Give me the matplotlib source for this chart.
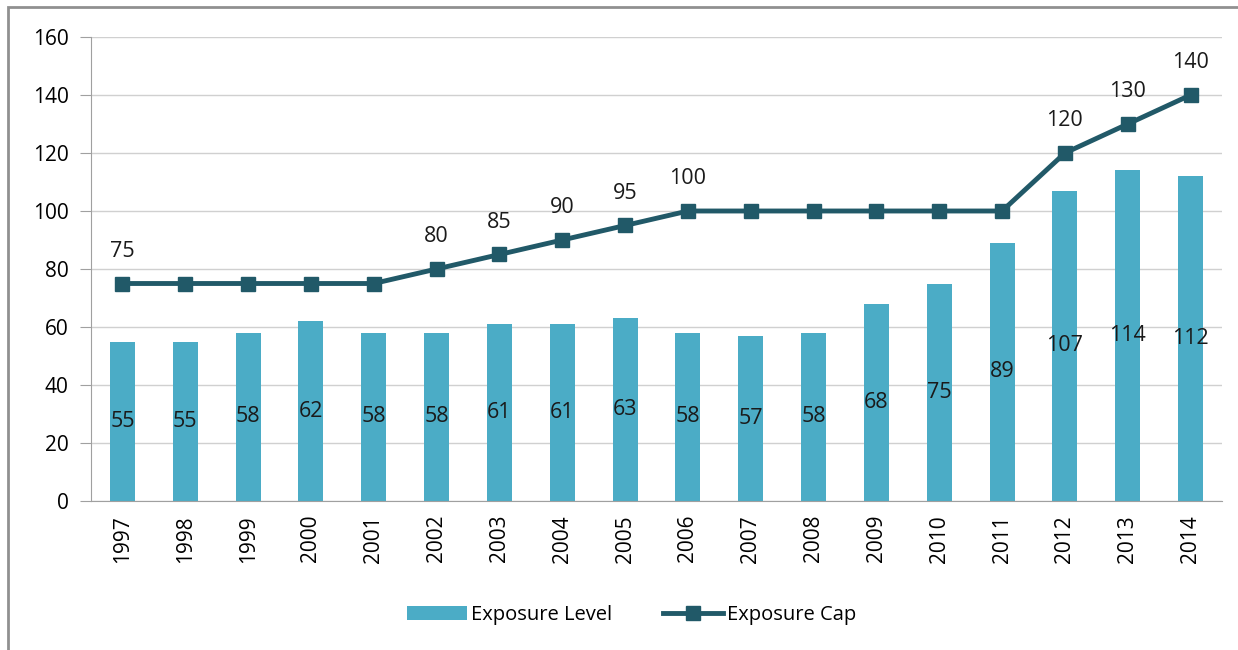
import numpy as np
import matplotlib.pyplot as plt
from matplotlib.patches import Rectangle

plt.rcParams['font.family'] = ['Open Sans', 'DejaVu Sans']

years = [str(y) for y in range(1997, 2015)]
exposure_level = [55, 55, 58, 62, 58, 58, 61, 61, 63, 58, 57, 58, 68, 75, 89, 107, 114, 112]
exposure_cap = [75, 75, 75, 75, 75, 80, 85, 90, 95, 100, 100, 100, 100, 100, 100, 120, 130, 140]
# only these cap points carry a label in the original
cap_labelled = [1, 0, 0, 0, 0, 1, 1, 1, 1, 1, 0, 0, 0, 0, 0, 1, 1, 1]

bar_col = '#4BACC6'
line_col = '#215968'

fig = plt.figure(figsize=(12.38, 6.5), dpi=100)
ax = fig.add_axes([91 / 1238, 1 - 501 / 650, (1222 - 91) / 1238, (501 - 37) / 650])

x = np.arange(len(years))
bars = ax.bar(x, exposure_level, width=0.4, color=bar_col, label='Exposure Level', zorder=2)
line, = ax.plot(x, exposure_cap, color=line_col, lw=3.5, marker='s', ms=10,
                label='Exposure Cap', zorder=3)

for i, v in enumerate(exposure_level):
    ax.text(x[i], v / 2, str(v), ha='center', va='center', fontsize=15.5, color='#1a1a1a', zorder=4)
for i, v in enumerate(exposure_cap):
    if cap_labelled[i]:
        ax.text(x[i], v + 7.5, str(v), ha='center', va='bottom', fontsize=15.5, color='#1a1a1a', zorder=4)

ax.set_xlim(-0.5, len(years) - 0.5)
ax.set_ylim(0, 160)
ax.set_yticks(range(0, 161, 20))
ax.set_xticks(x)
ax.set_xticklabels(years, rotation=90)
ax.yaxis.grid(True, color='#d0d0d0', lw=1, zorder=0)
ax.set_axisbelow(True)
for s in ['top', 'right']:
    ax.spines[s].set_visible(False)
for s in ['left', 'bottom']:
    ax.spines[s].set_color('#a0a0a0')
ax.tick_params(axis='y', length=8, color='#a0a0a0', labelsize=15, pad=8)
ax.tick_params(axis='x', length=0, labelsize=15, pad=10)

ax.legend([bars, line], ['Exposure Level', 'Exposure Cap'], loc='upper center',
          bbox_to_anchor=(0.478, -0.185), ncol=2, frameon=False,
          fontsize=14.5, handlelength=3, columnspacing=2.5, handletextpad=0.2)

# outer border of the chart area
fig.patches.append(Rectangle((8 / 1238, -0.1), 1.2, 1 - 7 / 650 + 0.1, transform=fig.transFigure,
                             fill=False, edgecolor='#909090', lw=2))

fig.savefig('out.png', dpi=100)
